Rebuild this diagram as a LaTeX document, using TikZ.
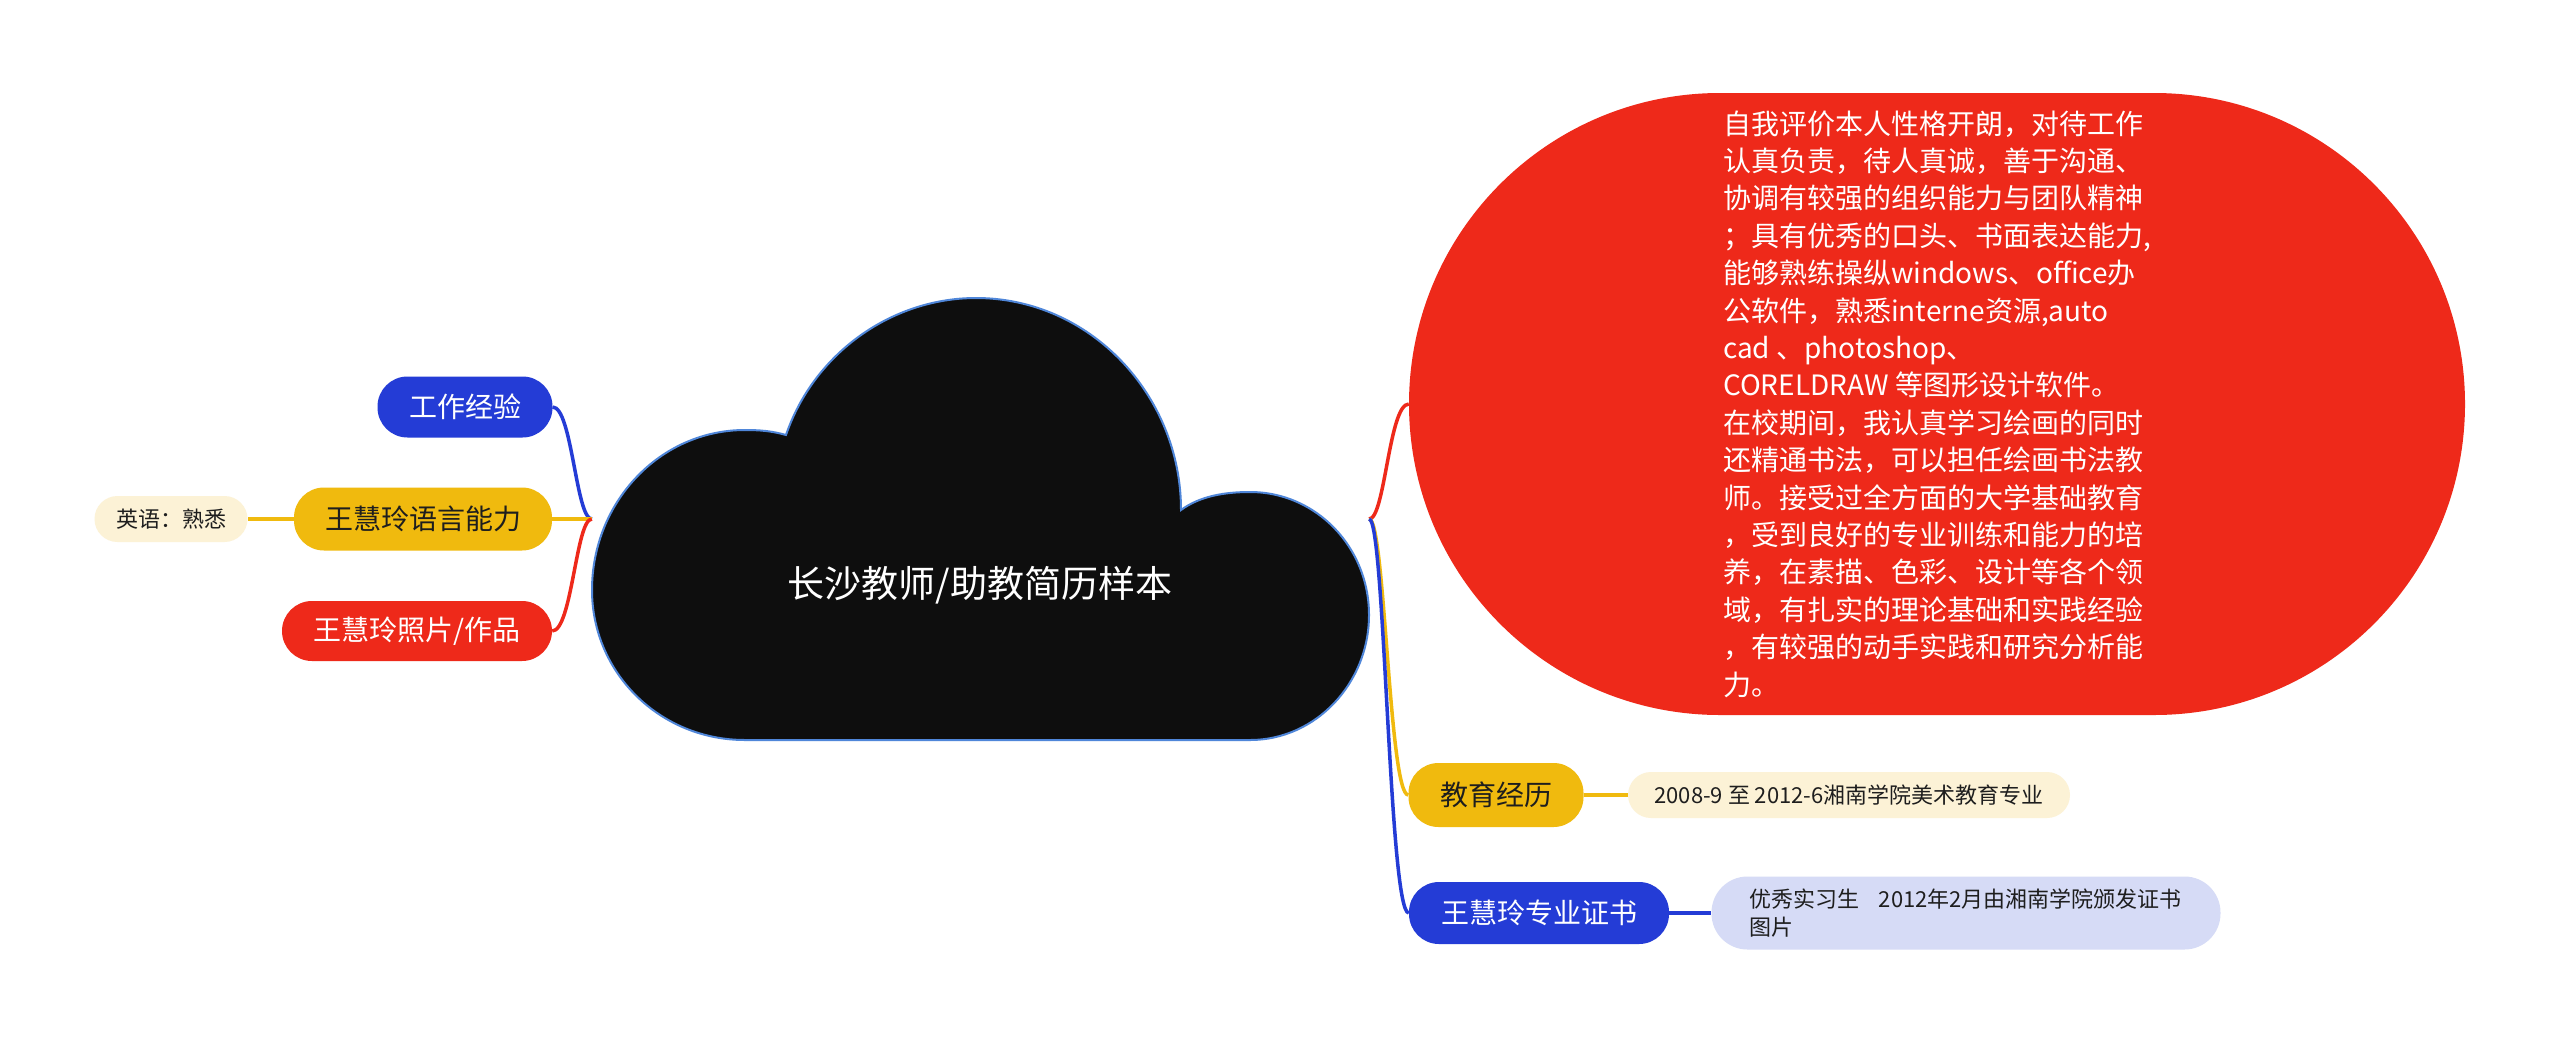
\documentclass[tikz,border=0pt]{standalone}
\usepackage{fontspec}
\setmainfont{Noto Sans CJK SC}
\definecolor{cBlue}{RGB}{36,60,214}
\definecolor{cYel}{RGB}{240,186,14}
\definecolor{cRed}{RGB}{238,41,26}
\definecolor{cLY}{RGB}{252,242,214}
\definecolor{cLB}{RGB}{214,219,246}
\definecolor{cCloud}{RGB}{14,14,14}
\definecolor{cCloudB}{RGB}{79,134,217}
\definecolor{cDark}{RGB}{30,30,30}
\begin{document}
\begin{tikzpicture}[x=1pt,y=-1pt,
  pill/.style={draw=none, inner sep=0pt, rounded corners=30pt, align=center},
  lpill/.style={draw=none, inner sep=0pt, rounded corners=23pt, text=cDark},
  big/.style={font=\fontsize{28}{34}\selectfont},
  small/.style={font=\fontsize{22}{28}\selectfont},
  conn/.style={line width=3.5pt}]
\useasboundingbox (0,0) rectangle (2560,1045);
\fill[white] (0,0) rectangle (2560,1045);

% cloud
\filldraw[fill=cCloud, draw=cCloudB, line width=2pt]
  (745,740) .. controls (660,740) and (592,673) .. (592,590)
  .. controls (592,502) and (660,430) .. (745,430)
  .. controls (760,430) and (772,431) .. (786,435)
  .. controls (814,353) and (892,298) .. (976,298)
  .. controls (1090,298) and (1181,395) .. (1181,510)
  .. controls (1200,496) and (1225,492) .. (1250,492)
  .. controls (1316,492) and (1369,547) .. (1369,615)
  .. controls (1369,683) and (1316,740) .. (1250,740)
  -- cycle;
\node[minimum width=777pt, minimum height=442pt, inner sep=0pt] (root) at (980.5,519) {};
\node[text=white, font=\fontsize{37}{44}\selectfont] (roottext) at (980,585) {长沙教师/助教简历样本};

% left branch
\node[pill, big, fill=cBlue, text=white, minimum width=175pt, minimum height=61pt] (w1) at (465,407) {工作经验};
\node[pill, big, fill=cYel, text=cDark, minimum width=258pt, minimum height=63pt] (w2) at (423,519) {王慧玲语言能力};
\node[lpill, small, fill=cLY, minimum width=153pt, minimum height=46pt] (w2c) at (171,519) {英语：熟悉};
\node[pill, big, fill=cRed, text=white, minimum width=270pt, minimum height=60pt] (w3) at (417,631) {王慧玲照片/作品};

% right branch
\node[draw=none, inner sep=0pt, rounded corners=311pt, fill=cRed, text=white, align=left,
  minimum width=1056pt, minimum height=622pt, font=\fontsize{28}{37.4}\selectfont] (r1) at (1937,404) {%
自我评价本人性格开朗，对待工作\\
认真负责，待人真诚，善于沟通、\\
协调有较强的组织能力与团队精神\\
；具有优秀的口头、书面表达能力,\\
能够熟练操纵windows、office办\\
公软件，熟悉interne资源,auto\\
cad 、photoshop、\\
CORELDRAW 等图形设计软件。\\
在校期间，我认真学习绘画的同时\\
还精通书法，可以担任绘画书法教\\
师。接受过全方面的大学基础教育\\
，受到良好的专业训练和能力的培\\
养，在素描、色彩、设计等各个领\\
域，有扎实的理论基础和实践经验\\
，有较强的动手实践和研究分析能\\
力。};
\node[pill, big, fill=cYel, text=cDark, minimum width=175pt, minimum height=64pt] (r2) at (1496,795) {教育经历};
\node[lpill, small, fill=cLY, minimum width=442pt, minimum height=46pt] (r2c) at (1849,795) {2008-9 至 2012-6湘南学院美术教育专业};
\node[pill, big, fill=cBlue, text=white, minimum width=260pt, minimum height=62pt] (r3) at (1539,913) {王慧玲专业证书};
\node[draw=none, inner sep=0pt, rounded corners=36pt, fill=cLB, text=cDark, small, align=left,
  minimum width=509pt, minimum height=73pt, text width=434pt] (r3c) at (1966,913) {\mbox{优秀实习生\hspace{0.9em}2012年2月由湘南学院颁发证书}\\图片};

% connectors
\draw[conn, cBlue] (root.west) .. controls (576,519) and (572,407) .. (w1.east);
\draw[conn, cYel] (root.west) -- (w2.east);
\draw[conn, cRed] (root.west) .. controls (576,519) and (572,631) .. (w3.east);
\draw[conn, cYel] (w2.west) -- (w2c.east);

\draw[conn, cRed] (root.east) .. controls (1385,519) and (1389,404) .. (r1.west);
\draw[conn, cYel] (root.east) .. controls (1385,519) and (1389,795) .. (r2.west);
\draw[conn, cBlue] (root.east) .. controls (1385,519) and (1389,913) .. (r3.west);
\draw[conn, cYel] (r2.east) -- (r2c.west);
\draw[conn, cBlue] (r3.east) -- (r3c.west);
\end{tikzpicture}
\end{document}
